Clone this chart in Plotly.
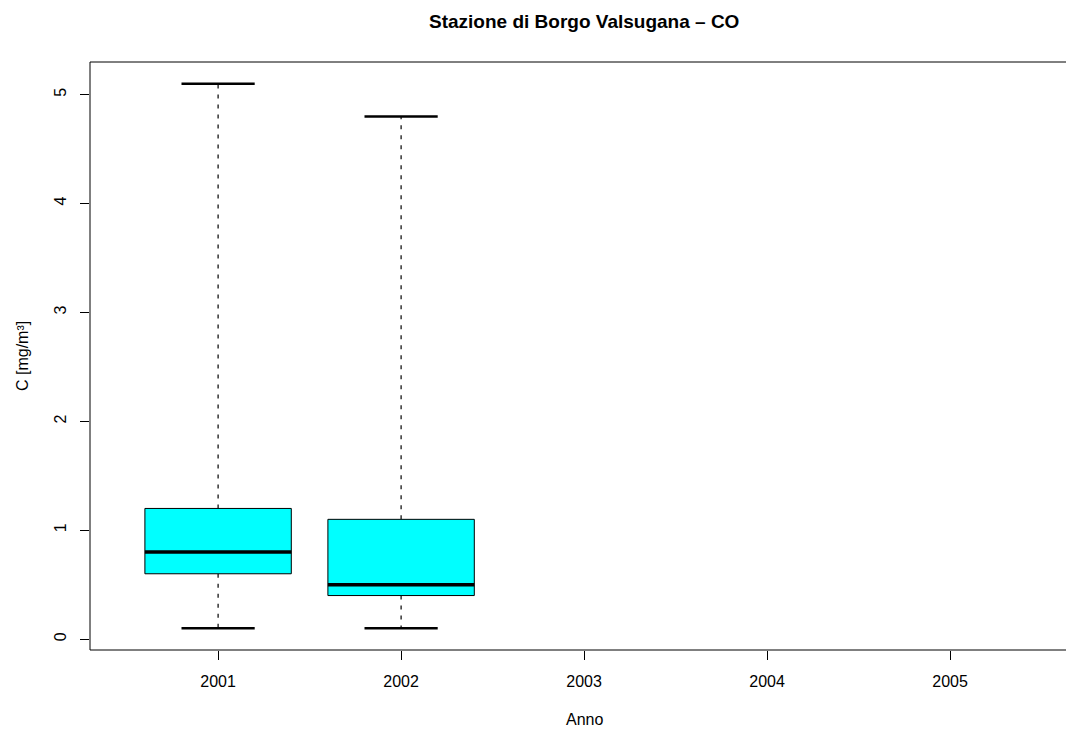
import plotly.graph_objects as go

# ---- data ----
years = ["2001", "2002", "2003", "2004", "2005"]
lower_whisker = [0.1, 0.1, None, None, None]
q1 = [0.6, 0.4, None, None, None]
median = [0.8, 0.5, None, None, None]
q3 = [1.2, 1.1, None, None, None]
upper_whisker = [5.1, 4.8, None, None, None]
y_ticks = [0, 1, 2, 3, 4, 5]

box_half = 0.4
cap_half = 0.2
FILL = "#00FFFF"
FONT = "Liberation Sans, Arial, sans-serif"

fig = go.Figure()
positions = list(range(1, len(years) + 1))

for i, pos in enumerate(positions):
    if median[i] is None:
        continue
    # whiskers (dashed)
    fig.add_trace(go.Scatter(
        x=[pos, pos, None, pos, pos],
        y=[q3[i], upper_whisker[i], None, q1[i], lower_whisker[i]],
        mode="lines", line=dict(color="black", width=1.2, dash="4px,6px"),
        hoverinfo="skip", showlegend=False))
    # box
    fig.add_trace(go.Scatter(
        x=[pos - box_half, pos + box_half, pos + box_half, pos - box_half, pos - box_half],
        y=[q1[i], q1[i], q3[i], q3[i], q1[i]],
        mode="lines", fill="toself", fillcolor=FILL,
        line=dict(color="black", width=1),
        hoverinfo="skip", showlegend=False))
    # median
    fig.add_trace(go.Scatter(
        x=[pos - box_half, pos + box_half], y=[median[i], median[i]],
        mode="lines", line=dict(color="black", width=3.5),
        hoverinfo="skip", showlegend=False))
    # caps
    fig.add_trace(go.Scatter(
        x=[pos - cap_half, pos + cap_half, None, pos - cap_half, pos + cap_half],
        y=[upper_whisker[i], upper_whisker[i], None, lower_whisker[i], lower_whisker[i]],
        mode="lines", line=dict(color="black", width=2.5),
        hoverinfo="skip", showlegend=False))

# The reference's plot frame continues past the right edge of the picture.
L, R, T, B = 90, 0, 62, 79
W, H = 1066, 729
px_per_unit = 183
x_lo = 0.3
x_hi = x_lo + (W - L - R) / px_per_unit
PW = W - L - R
PH = H - T - B

frame = dict(color="black", width=1)
fig.update_layout(
    width=W, height=H,
    margin=dict(l=L, r=R, t=T, b=B),
    paper_bgcolor="white", plot_bgcolor="white",
    font=dict(family=FONT, size=16, color="black"),
    showlegend=False,
    xaxis=dict(
        range=[x_lo, x_hi], tickmode="array", tickvals=positions, ticktext=years,
        showgrid=False, zeroline=False, showline=False,
        ticks="outside", ticklen=9,
        tickcolor="black", tickwidth=1, ticklabelstandoff=8,
    ),
    yaxis=dict(
        range=[-0.1, 5.3], tickmode="array", tickvals=y_ticks,
        ticktext=[str(v) for v in y_ticks], tickangle=-90,
        showgrid=False, zeroline=False, showline=False,
        ticks="outside", ticklen=9,
        tickcolor="black", tickwidth=1, ticklabelstandoff=8,
    ),
    shapes=[
        dict(type="line", xref="paper", yref="paper", x0=0, x1=1.01, y0=0, y1=0, line=frame),
        dict(type="line", xref="paper", yref="paper", x0=0, x1=1.01, y0=1, y1=1, line=frame),
        dict(type="line", xref="paper", yref="paper", x0=0, x1=0, y0=0, y1=1, line=frame),
    ],
    annotations=[
        dict(text="<b>Stazione di Borgo Valsugana – CO</b>", xref="paper", yref="paper",
             x=(584 - L) / PW, y=1 + (T - 21) / PH,
             xanchor="center", yanchor="middle", showarrow=False,
             font=dict(size=19, family=FONT)),
        dict(text="Anno", xref="paper", yref="paper",
             x=(584 - L) / PW, y=-(719 - (H - B)) / PH,
             xanchor="center", yanchor="middle", showarrow=False,
             font=dict(size=16, family=FONT)),
        dict(text="C [mg/m³]", xref="paper", yref="paper",
             x=-(L - 22) / PW, y=0.5, textangle=-90,
             xanchor="center", yanchor="middle", showarrow=False,
             font=dict(size=16, family=FONT)),
    ],
)

fig.write_html(
    "out.html",
    config={"displayModeBar": False},
    post_script="document.body.style.margin='0';document.body.style.overflow='hidden';",
)
